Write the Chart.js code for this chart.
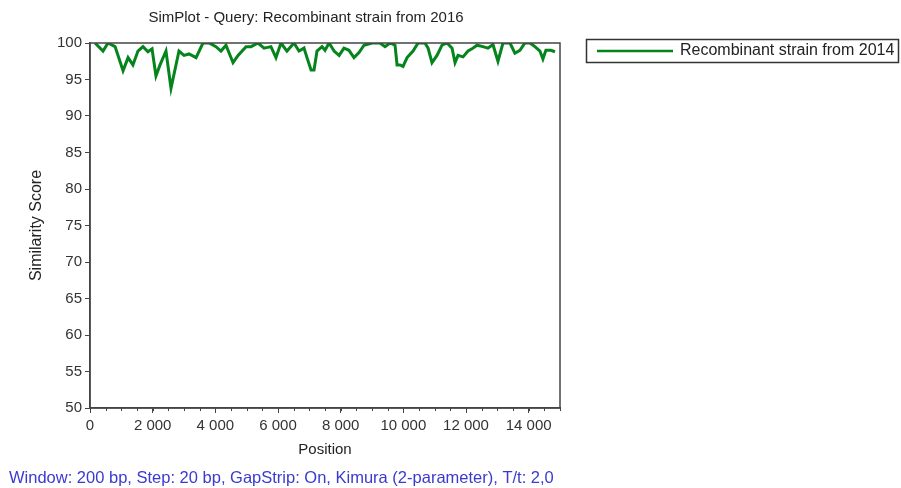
<!DOCTYPE html>
<html>
<head>
<meta charset="utf-8">
<script src="https://cdn.jsdelivr.net/npm/chart.js@4.4.0/dist/chart.umd.min.js"></script>
<style>
  html, body { margin: 0; padding: 0; background: #ffffff; }
  #wrap { width: 901px; height: 488px; position: relative; }
</style>
</head>
<body>
<div id="wrap"><canvas id="c" width="901" height="488"></canvas></div>
<script>
const chartTitle = 'SimPlot - Query: Recombinant strain from 2016';
const seriesLabel = 'Recombinant strain from 2014';
const footerText = 'Window: 200 bp, Step: 20 bp, GapStrip: On, Kimura (2-parameter), T/t: 2,0';
const xTitle = 'Position';
const yTitle = 'Similarity Score';

const positions = [160, 415, 575, 800, 1055, 1215, 1370, 1530, 1690, 1850, 1980, 2105, 2235, 2425, 2585, 2840, 3000, 3160, 3385, 3605, 3800, 4020, 4180, 4340, 4565, 4725, 4980, 5140, 5360, 5555, 5775, 5935, 6095, 6285, 6510, 6670, 6830, 6925, 7055, 7150, 7245, 7405, 7500, 7630, 7790, 7950, 8105, 8265, 8425, 8585, 8745, 9000, 9255, 9415, 9575, 9735, 9800, 9895, 9990, 10120, 10310, 10470, 10690, 10790, 10915, 11075, 11235, 11395, 11555, 11650, 11745, 11905, 12065, 12190, 12350, 12540, 12700, 12860, 13020, 13180, 13405, 13560, 13720, 13880, 14040, 14200, 14360, 14455, 14550, 14710, 14840];
const scores = [100, 98.9, 100, 99.5, 96.2, 98, 97, 98.9, 99.5, 98.8, 99.2, 95.5, 97, 98.9, 93.8, 98.9, 98.3, 98.5, 98, 100, 100, 99.5, 98.9, 99.7, 97.3, 98.3, 99.5, 99.5, 100, 99.3, 99.5, 98, 100, 98.9, 100, 98.9, 99.3, 98, 96.3, 96.3, 98.9, 99.5, 99, 100, 98.9, 98.3, 99.3, 99, 98, 98.7, 99.7, 100, 100, 99.5, 100, 99.7, 97, 97, 96.8, 98, 98.9, 100, 100, 99.3, 97.3, 98.3, 99.7, 100, 99.3, 97.3, 98.3, 98.1, 98.9, 99.2, 99.7, 99.5, 99.3, 99.8, 97.5, 100, 100, 98.6, 99, 100, 100, 99.5, 98.9, 97.8, 99, 99, 98.8];

const xTickValues = [0, 2000, 4000, 6000, 8000, 10000, 12000, 14000];
const xMinorStep = 500;
const yTickValues = [50, 55, 60, 65, 70, 75, 80, 85, 90, 95, 100];

const FONT = '"Liberation Sans", Arial, sans-serif';
const fmt = v => String(v).replace(/\B(?=(\d{3})+(?!\d))/g, ' ');

const decor = {
  id: 'decor',
  afterDraw(chart) {
    const {ctx, chartArea: a, scales} = chart;
    ctx.save();
    // frame
    ctx.strokeStyle = '#444';
    ctx.lineWidth = 1.5;
    ctx.strokeRect(a.left, a.top, a.right - a.left, a.bottom - a.top);
    // minor x ticks
    ctx.strokeStyle = '#444';
    ctx.lineWidth = 1;
    const xs = scales.x;
    for (let v = xs.min; v <= xs.max; v += xMinorStep) {
      const px = Math.round(xs.getPixelForValue(v)) + 0.5;
      ctx.beginPath();
      ctx.moveTo(px, a.bottom);
      ctx.lineTo(px, a.bottom + 3);
      ctx.stroke();
    }
    // title
    ctx.fillStyle = '#222';
    ctx.font = '15px ' + FONT;
    ctx.textAlign = 'center';
    ctx.textBaseline = 'middle';
    ctx.fillText(chartTitle, 306, 18);
    // footer
    ctx.fillStyle = '#3a3ad0';
    ctx.font = '16.5px ' + FONT;
    ctx.textAlign = 'left';
    ctx.fillText(footerText, 9, 478);
    // legend
    const ds = chart.data.datasets[0];
    ctx.strokeStyle = '#333';
    ctx.lineWidth = 1.5;
    ctx.strokeRect(586.5, 39.5, 312, 23);
    ctx.strokeStyle = ds.borderColor;
    ctx.lineWidth = 2.5;
    ctx.beginPath();
    ctx.moveTo(597, 51);
    ctx.lineTo(673, 51);
    ctx.stroke();
    ctx.fillStyle = '#222';
    ctx.font = '16px ' + FONT;
    ctx.fillText(ds.label, 680, 51);
    ctx.restore();
  }
};

new Chart(document.getElementById('c'), {
  type: 'line',
  data: {
    datasets: [{
      label: seriesLabel,
      data: positions.map((p, i) => ({x: p, y: scores[i]})),
      borderColor: '#05841c',
      borderWidth: 3,
      pointRadius: 0,
      tension: 0,
      fill: false
    }]
  },
  options: {
    responsive: false,
    animation: false,
    layout: { padding: { top: 43, left: 0, right: 341, bottom: 30 } },
    plugins: { legend: { display: false }, title: { display: false }, tooltip: { enabled: false } },
    scales: {
      x: {
        type: 'linear', min: 0, max: 15000,
        afterBuildTicks: s => { s.ticks = xTickValues.map(v => ({value: v})); },
        afterFit: s => { s.height = 50; },
        ticks: { color: '#333', font: { family: FONT, size: 15 }, padding: 4, maxRotation: 0, callback: v => fmt(v) },
        grid: { drawOnChartArea: false, drawTicks: true, tickLength: 5, color: '#444' },
        border: { display: true, color: '#444', width: 1.5 },
        title: { display: true, text: xTitle, color: '#222', font: { family: FONT, size: 15 }, padding: { top: 0, bottom: -1 } }
      },
      y: {
        type: 'linear', min: 50, max: 100,
        afterBuildTicks: s => { s.ticks = yTickValues.map(v => ({value: v})); },
        afterFit: s => { s.width = 90; },
        ticks: { color: '#333', font: { family: FONT, size: 15 }, padding: 3 },
        grid: { drawOnChartArea: false, drawTicks: true, tickLength: 5, color: '#444' },
        border: { display: true, color: '#444', width: 1.5 },
        title: { display: true, text: yTitle, color: '#222', font: { family: FONT, size: 16 }, padding: { top: 27, bottom: 0 } }
      }
    }
  },
  plugins: [decor]
});
</script>
</body>
</html>
